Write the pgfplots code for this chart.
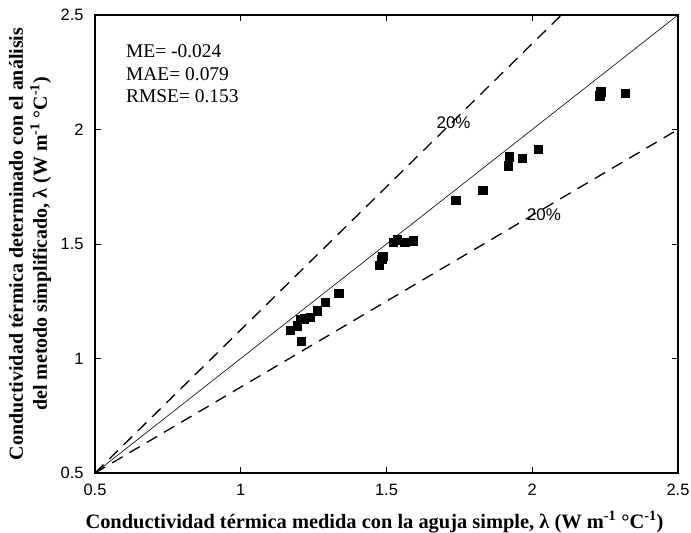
\documentclass[border=0pt]{standalone}
\usepackage{pgfplots}
\pgfplotsset{compat=1.18}
\usepackage{fontspec}
\setmainfont{Liberation Serif}
\newfontfamily\arial{Liberation Sans}
\begin{document}
\begin{tikzpicture}
\useasboundingbox (-95bp,-60bp) rectangle (596bp,473bp);
\begin{axis}[
  scale only axis, width=583bp, height=458bp,
  xmin=0.5, xmax=2.5, ymin=0.5, ymax=2.5,
  xtick={0.5,1,1.5,2,2.5}, ytick={0.5,1,1.5,2,2.5},
  xticklabels={0.5,1,1.5,2,2.5}, yticklabels={0.5,1,1.5,2,2.5},
  tick align=inside, major tick length=6bp,
  tick style={black, line width=0.9bp},
  axis line style={line width=1.2bp},
  ticklabel style={font=\arial\fontsize{16.5}{18}\selectfont},
  xticklabel style={yshift=-8bp},
  yticklabel style={xshift=-8bp},
  xlabel={Conductividad térmica medida con la aguja simple, λ (W m\textsuperscript{-1} °C\textsuperscript{-1})},
  ylabel={Conductividad térmica determinado con el análisis\\del metodo simplificado, λ (W m\textsuperscript{-1} °C\textsuperscript{-1})},
  xlabel style={font=\bfseries\fontsize{20.5}{22}\selectfont, at={(axis description cs:0.5,0)}, anchor=north, inner sep=0pt, yshift=-38bp, xshift=-12bp},
  ylabel style={font=\bfseries\fontsize{20}{24}\selectfont, align=center, at={(axis description cs:0,0.5)}, anchor=center, yshift=65bp, inner sep=0pt},
  clip=true,
]
\addplot[black, line width=0.6bp] coordinates {(0.5,0.5) (2.5,2.5)};
\addplot[black, line width=1.3bp, dash pattern=on 12bp off 8bp] coordinates {(0.5,0.5) (2.1,2.5)};
\addplot[black, line width=1.3bp, dash pattern=on 12bp off 8bp] coordinates {(0.5,0.5) (2.5,2.0)};
\addplot[only marks, mark=square*, mark size=4.3bp, black] table {
x y
1.169 1.123
1.194 1.142
1.206 1.171
1.218 1.174
1.238 1.181
1.262 1.209
1.290 1.245
1.337 1.285
1.207 1.076
1.475 1.408
1.483 1.433
1.487 1.447
1.523 1.508
1.537 1.520
1.563 1.507
1.592 1.515
1.738 1.692
1.830 1.735
1.918 1.841
1.921 1.881
1.966 1.874
2.021 1.914
2.232 2.148
2.234 2.165
2.319 2.158
};
\node[font=\arial\fontsize{17}{20}\selectfont] at (axis cs:1.73,2.03) {20\%};
\node[font=\arial\fontsize{17}{20}\selectfont] at (axis cs:2.04,1.63) {20\%};
\node[anchor=north west, align=left, inner sep=0pt, font=\fontsize{19.5}{23}\selectfont] at (rel axis cs:0,1) [xshift=31bp, yshift=-29bp] {ME= -0.024\\MAE= 0.079\\RMSE= 0.153};
\end{axis}
\end{tikzpicture}
\end{document}
